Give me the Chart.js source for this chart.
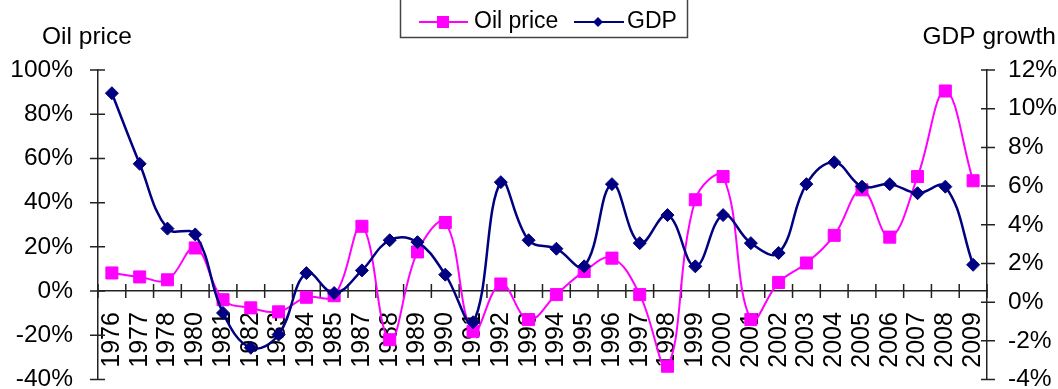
<!DOCTYPE html>
<html>
<head>
<meta charset="utf-8">
<script src="https://cdn.jsdelivr.net/npm/chart.js@4/dist/chart.umd.min.js"></script>
<style>
  html, body { margin: 0; padding: 0; background: #fff; }
  #wrap { width: 1058px; height: 389px; position: relative; }
</style>
</head>
<body>
<div id="wrap"><canvas id="chart"></canvas></div>
<script>
const years = [
  '1976', '1977', '1978', '1980', '1981', '1982', '1983', '1984', '1985',
  '1987', '1988', '1989', '1990', '1991', '1992', '1993', '1994', '1995',
  '1996', '1997', '1998', '1999', '2000', '2001', '2002', '2003', '2004',
  '2005', '2006', '2007', '2008', '2009'
]

// oil price change, % (left axis)
const oilPrice = [
  8.2, 6.4, 5.1, 19.5, -3.9, -7.6, -9.4, -2.8, -2.1,
  29.3, -22, 17.7, 31, -18.2, 3.2, -12.9, -1.6, 8.9,
  14.9, -1.6, -34, 41.3, 51.8, -12.9, 3.9, 12.7, 25.2,
  45.8, 24.4, 51.8, 90.5, 49.9
]

// GDP growth, % (right axis)
const gdpGrowth = [
  10.8, 7.15, 3.8, 3.5, -0.56, -2.36, -1.68, 1.5, 0.47,
  1.64, 3.2, 3.1, 1.42, -1.04, 6.2, 3.2, 2.76, 1.85,
  6.1, 3.05, 4.5, 1.85, 4.5, 3.05, 2.54, 6.1, 7.23,
  5.97, 6.1, 5.63, 5.97, 1.93
]

const oilTicks = { min: -40, max: 100, step: 20 }
const gdpTicks = { min: -4, max: 12, step: 2 }

const FONT = 'Liberation Sans, Arial, sans-serif'
const OIL_COLOR = '#ff00ff'
const GDP_COLOR = '#000080'
const AXIS_COLOR = '#222'

function noPadding(scale) {
  scale.paddingTop = 0
  scale.paddingBottom = 0
  scale.paddingLeft = 0
  scale.paddingRight = 0
}

// Excel style tick marks that cross the axis lines
const crossTicks = {
  id: 'crossTicks',
  beforeDatasetsDraw(chart) {
    const ctx = chart.ctx
    const x = chart.scales.x
    const yOil = chart.scales.yOil
    const yGdp = chart.scales.yGdp
    const zeroY = yOil.getPixelForValue(0)
    ctx.save()
    ctx.strokeStyle = AXIS_COLOR
    ctx.lineWidth = 1.5
    ctx.beginPath()
    const half = (x.getPixelForTick(1) - x.getPixelForTick(0)) / 2
    for (let i = 0; i <= years.length; i++) {
      const px = x.getPixelForTick(0) - half + i * half * 2
      ctx.moveTo(px, zeroY - 7)
      ctx.lineTo(px, zeroY + 7)
    }
    yOil.ticks.forEach(t => {
      const py = yOil.getPixelForValue(t.value)
      ctx.moveTo(yOil.right - 8, py)
      ctx.lineTo(yOil.right + 7, py)
    })
    yGdp.ticks.forEach(t => {
      const py = yGdp.getPixelForValue(t.value)
      ctx.moveTo(yGdp.left - 6, py)
      ctx.lineTo(yGdp.left + 8, py)
    })
    ctx.stroke()
    ctx.restore()
  }
}

// axis captions and the boxed legend at the top
const decorations = {
  id: 'decorations',
  afterDraw(chart) {
    const ctx = chart.ctx
    ctx.save()
    ctx.font = '24.5px ' + FONT
    ctx.fillStyle = '#000'
    ctx.textBaseline = 'alphabetic'
    ctx.textAlign = 'left'
    ctx.fillText('Oil price', 42, 44)
    ctx.textAlign = 'right'
    ctx.fillText('GDP growth', 1056, 44)

    // legend box, top edge runs off the canvas
    ctx.strokeStyle = '#444'
    ctx.lineWidth = 1.5
    ctx.beginPath()
    ctx.moveTo(400.5, -2)
    ctx.lineTo(400.5, 37.5)
    ctx.lineTo(687.5, 37.5)
    ctx.lineTo(687.5, -2)
    ctx.stroke()

    const ly = 22
    ctx.lineWidth = 2
    ctx.strokeStyle = OIL_COLOR
    ctx.beginPath()
    ctx.moveTo(419, ly)
    ctx.lineTo(468, ly)
    ctx.stroke()
    ctx.fillStyle = OIL_COLOR
    ctx.fillRect(437, ly - 6, 12, 12)

    ctx.strokeStyle = GDP_COLOR
    ctx.beginPath()
    ctx.moveTo(574, ly)
    ctx.lineTo(624, ly)
    ctx.stroke()
    ctx.fillStyle = GDP_COLOR
    ctx.beginPath()
    ctx.moveTo(598, ly - 5)
    ctx.lineTo(603, ly)
    ctx.lineTo(598, ly + 5)
    ctx.lineTo(593, ly)
    ctx.closePath()
    ctx.fill()

    ctx.fillStyle = '#000'
    ctx.font = '23px ' + FONT
    ctx.textAlign = 'left'
    ctx.textBaseline = 'middle'
    ctx.fillText('Oil price', 474, ly)
    ctx.fillText('GDP', 627, ly)
    ctx.restore()
  }
}

new Chart(document.getElementById('chart'), {
  type: 'line',
  data: {
    labels: years,
    datasets: [
      {
        label: 'GDP',
        data: gdpGrowth,
        yAxisID: 'yGdp',
        borderColor: GDP_COLOR,
        backgroundColor: GDP_COLOR,
        borderWidth: 2.5,
        pointStyle: 'rectRot',
        pointRadius: 6.5,
        pointBorderWidth: 1,
        tension: 0.4
      },
      {
        label: 'Oil price',
        data: oilPrice,
        yAxisID: 'yOil',
        borderColor: OIL_COLOR,
        backgroundColor: OIL_COLOR,
        borderWidth: 2,
        pointStyle: 'rect',
        pointRadius: 8.5,
        pointBorderWidth: 1,
        tension: 0.4
      }
    ]
  },
  options: {
    responsive: true,
    maintainAspectRatio: false,
    animation: false,
    layout: { padding: { top: 70, bottom: 9, left: 0, right: 0 } },
    plugins: {
      legend: { display: false },
      tooltip: { enabled: false }
    },
    scales: {
      x: {
        position: { yOil: 0 },
        offset: true,
        grid: {
          display: true,
          offset: true,
          drawOnChartArea: false,
          drawTicks: false
        },
        border: { display: true, color: AXIS_COLOR, width: 1.5 },
        ticks: {
          autoSkip: false,
          maxRotation: 90,
          minRotation: 90,
          padding: 21,
          color: '#000',
          font: { family: FONT, size: 25 }
        },
        afterFit: noPadding
      },
      yOil: {
        position: 'left',
        min: oilTicks.min,
        max: oilTicks.max,
        grid: {
          drawOnChartArea: false,
          drawTicks: false
        },
        border: { display: true, color: AXIS_COLOR, width: 1.5 },
        ticks: {
          stepSize: oilTicks.step,
          padding: 25,
          color: '#000',
          font: { family: FONT, size: 24.5 },
          callback: v => v + '%'
        },
        afterFit(scale) {
          noPadding(scale)
          scale.width = 98
        }
      },
      yGdp: {
        position: 'right',
        min: gdpTicks.min,
        max: gdpTicks.max,
        grid: {
          drawOnChartArea: false,
          drawTicks: false
        },
        border: { display: true, color: AXIS_COLOR, width: 1.5 },
        ticks: {
          stepSize: gdpTicks.step,
          padding: 21,
          color: '#000',
          font: { family: FONT, size: 24.5 },
          callback: v => v + '%'
        },
        afterFit(scale) {
          noPadding(scale)
          scale.width = 71
        }
      }
    }
  },
  plugins: [crossTicks, decorations]
})
</script>
</body>
</html>
